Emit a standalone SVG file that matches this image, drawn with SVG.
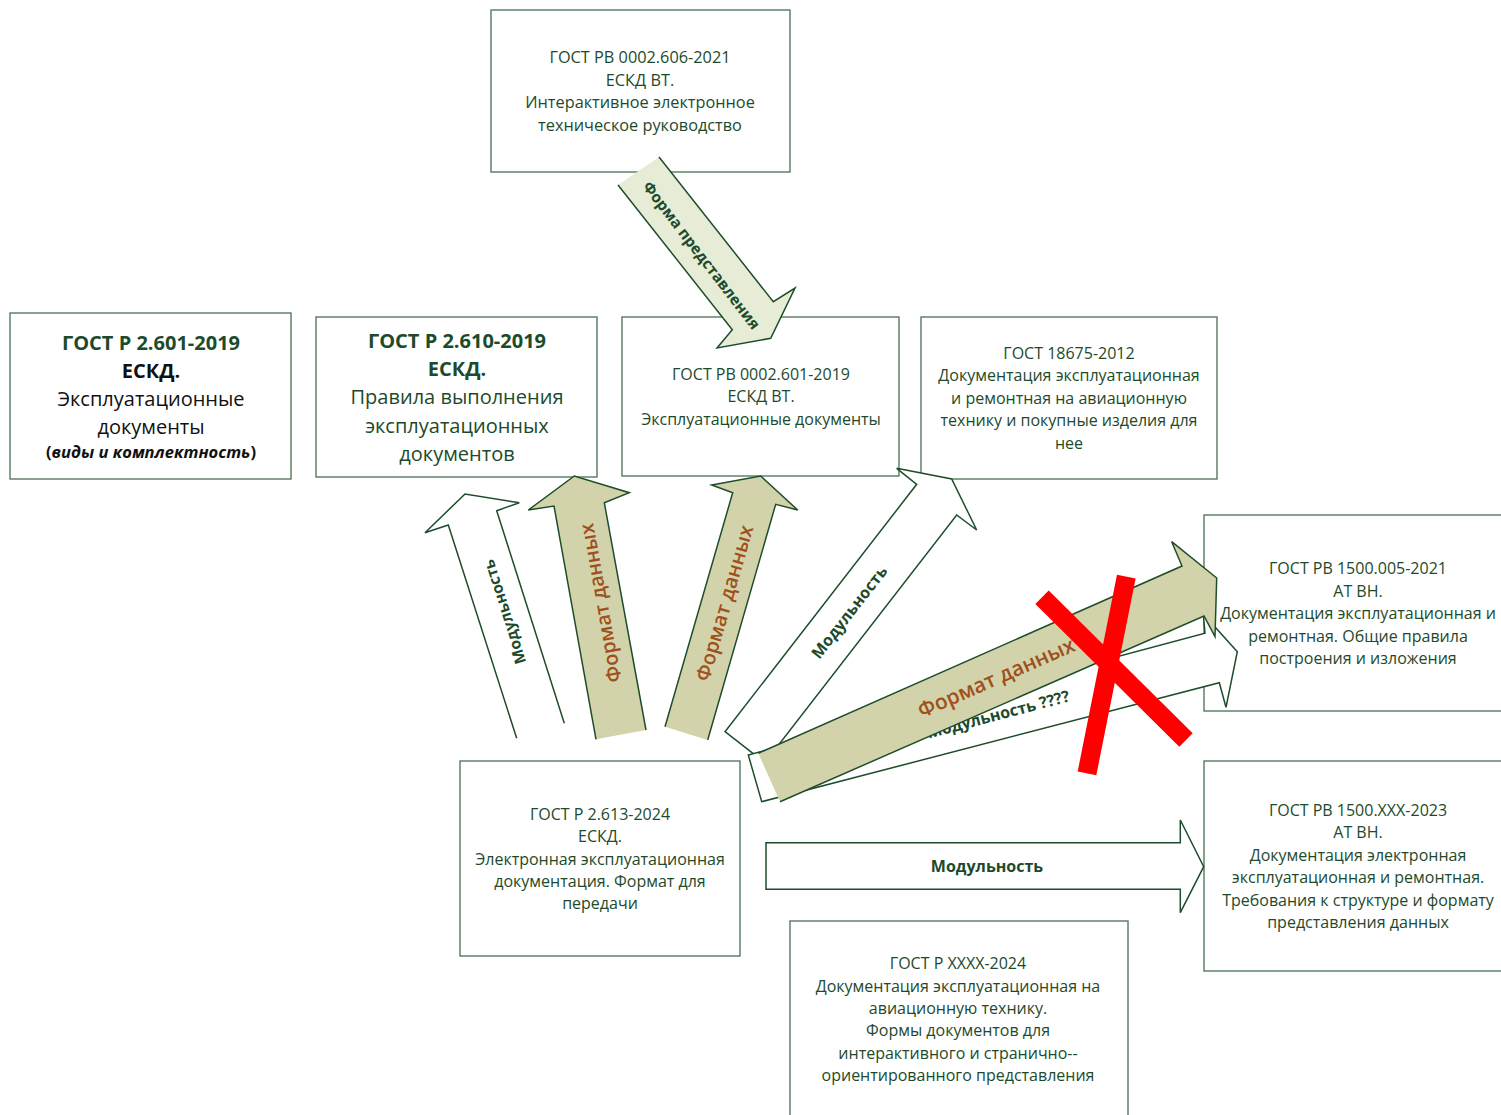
<svg xmlns="http://www.w3.org/2000/svg" width="1501" height="1115" viewBox="0 0 1501 1115">
<defs>
<style>
.box{fill:#fff;stroke:#557a60;stroke-width:1.4}
.t{font-family:"Open Sans","Noto Sans","DejaVu Sans",sans-serif;font-size:16px;fill:#1d4a2b;text-anchor:middle}
.big{font-size:20px}
.b{font-weight:bold}
.blk{fill:#111}
.ol{fill:none;stroke:#1e4d2b;stroke-width:1.5;stroke-linejoin:miter}
.wf{fill:#fff;stroke:none}
.tan{fill:#d2d3ab;stroke:none}
.lg{fill:#e6ecd6;stroke:none}
.lbl{font-family:"Open Sans","Noto Sans","DejaVu Sans",sans-serif;font-weight:bold;font-size:16px;fill:#1d4a2b;text-anchor:middle;dominant-baseline:central}
.fmt{font-family:"Open Sans","Noto Sans","DejaVu Sans",sans-serif;font-weight:600;font-size:20px;fill:#a0501c;text-anchor:middle;dominant-baseline:central}
.x{stroke:#ff0000;stroke-width:19;stroke-linecap:butt}
</style>
</defs>
<rect width="1501" height="1115" fill="#fff"/>

<g id="n-606">
<rect class="box" x="491" y="10" width="299" height="162"/>
<text class="t" x="640" y="62.5" style="font-size:16.3px">ГОСТ РВ 0002.606-2021</text>
<text class="t" x="640" y="85.5" style="font-size:16.3px">ЕСКД ВТ.</text>
<text class="t" x="640" y="107.5" style="font-size:16.3px">Интерактивное электронное</text>
<text class="t" x="640" y="130.5" style="font-size:16.3px">техническое руководство</text>
</g>

<g id="n-601">
<rect class="box" x="10" y="313" width="281" height="166"/>
<text class="t big b" x="151" y="350">ГОСТ Р 2.601-2019</text>
<text class="t big b blk" x="151" y="378">ЕСКД.</text>
<text class="t big blk" x="151" y="406">Эксплуатационные</text>
<text class="t big blk" x="151" y="434">документы</text>
<text class="t b blk" x="151" y="458" style="font-size:16.5px">(<tspan font-style="italic">виды и комплектность</tspan>)</text>
</g>

<g id="n-610">
<rect class="box" x="316" y="317" width="281" height="160"/>
<text class="t big b" x="457" y="348">ГОСТ Р 2.610-2019</text>
<text class="t big b" x="457" y="376">ЕСКД.</text>
<text class="t big" x="457" y="404">Правила выполнения</text>
<text class="t big" x="457" y="433">эксплуатационных</text>
<text class="t big" x="457" y="461">документов</text>
</g>

<g id="n-rv601">
<rect class="box" x="622" y="317" width="277" height="159"/>
<text class="t" x="761" y="379.5">ГОСТ РВ 0002.601-2019</text>
<text class="t" x="761" y="401.5">ЕСКД ВТ.</text>
<text class="t" x="761" y="424.5">Эксплуатационные документы</text>
</g>

<g id="n-18675">
<rect class="box" x="921" y="317" width="296" height="162"/>
<text class="t" x="1069" y="358.5">ГОСТ 18675-2012</text>
<text class="t" x="1069" y="380.5">Документация эксплуатационная</text>
<text class="t" x="1069" y="403.5">и ремонтная на авиационную</text>
<text class="t" x="1069" y="425.5">технику и покупные изделия для</text>
<text class="t" x="1069" y="448.5">нее</text>
</g>

<g id="n-1500-005">
<rect class="box" x="1204" y="515" width="310" height="196"/>
<text class="t" x="1358" y="573.5">ГОСТ РВ 1500.005-2021</text>
<text class="t" x="1358" y="596.5">АТ ВН.</text>
<text class="t" x="1358" y="618.5">Документация эксплуатационная и</text>
<text class="t" x="1358" y="641.5">ремонтная. Общие правила</text>
<text class="t" x="1358" y="663.5">построения и изложения</text>
</g>

<g id="n-1500-xxx">
<rect class="box" x="1204" y="761" width="310" height="210"/>
<text class="t" x="1358" y="815.5">ГОСТ РВ 1500.XXX-2023</text>
<text class="t" x="1358" y="837.5">АТ ВН.</text>
<text class="t" x="1358" y="860.5">Документация электронная</text>
<text class="t" x="1358" y="882.5">эксплуатационная и ремонтная.</text>
<text class="t" x="1358" y="905.5">Требования к структуре и формату</text>
<text class="t" x="1358" y="927.5">представления данных</text>
</g>

<g id="n-613">
<rect class="box" x="460" y="761" width="280" height="195"/>
<text class="t" x="600" y="819.5">ГОСТ Р 2.613-2024</text>
<text class="t" x="600" y="841.5">ЕСКД.</text>
<text class="t" x="600" y="864.5">Электронная эксплуатационная</text>
<text class="t" x="600" y="886.5">документация. Формат для</text>
<text class="t" x="600" y="908.5">передачи</text>
</g>

<g id="n-xxxx">
<rect class="box" x="790" y="921" width="338" height="210"/>
<text class="t" x="958" y="968.5">ГОСТ Р XXXX-2024</text>
<text class="t" x="958" y="991.5">Документация эксплуатационная на</text>
<text class="t" x="958" y="1013.5">авиационную технику.</text>
<text class="t" x="958" y="1035.5">Формы документов для</text>
<text class="t" x="958" y="1058.5">интерактивного и странично--</text>
<text class="t" x="958" y="1080.5">ориентированного представления</text>
</g>

<g id="connectors">
<g id="c-mod-left">
<polygon class="wf" points="516.7,738.3 448.3,525 425,532.7 465,494 519.3,502.7 496.7,510.7 564.3,723.3"/>
<polyline class="ol" points="516.7,738.3 448.3,525 425,532.7 465,494 519.3,502.7 496.7,510.7 564.3,723.3"/>
<text class="lbl" transform="translate(504,612) rotate(-107.8)" style="font-size:15.5px">Модульность</text>
</g>
<g id="c-fmt-1">
<polygon class="tan" points="596,739.3 554,506 528.3,510 574.3,476 629.3,492.7 604.3,502.7 646,730"/>
<polyline class="ol" points="596,739.3 554,506 528.3,510 574.3,476 629.3,492.7 604.3,502.7 646,730"/>
<text class="fmt" transform="translate(600,603) rotate(-100.2)">Формат данных</text>
</g>
<g id="c-fmt-2">
<polygon class="tan" points="665,726.7 732.7,492.7 711.7,485 760.7,476 797.7,510 775.7,504.3 707.7,740"/>
<polyline class="ol" points="665,726.7 732.7,492.7 711.7,485 760.7,476 797.7,510 775.7,504.3 707.7,740"/>
<text class="fmt" transform="translate(724,603) rotate(-73.9)">Формат данных</text>
</g>
<g id="c-forma">
<polygon class="lg" points="618,185 732.3,329.7 717,348 770.7,338.3 795,288 773.3,301.7 659,157"/>
<polyline class="ol" points="618,185 732.3,329.7 717,348 770.7,338.3 795,288 773.3,301.7 659,157"/>
<text class="lbl" transform="translate(702,255) rotate(52.5)" style="font-size:15.3px">Форма представления</text>
</g>
<g id="c-mod-2">
<polygon class="wf" points="725,731.7 916.7,484.3 896.7,468.3 951.7,479 976.7,530 956.7,515 764.8,762.6"/>
<polygon class="ol" points="725,731.7 916.7,484.3 896.7,468.3 951.7,479 976.7,530 956.7,515 764.8,762.6"/>
<text class="lbl" transform="translate(849,612) rotate(-52.2)">Модульность</text>
</g>
<g id="c-mod-q">
<polygon class="wf" points="748.3,755 1205,633.3 1203.3,614 1237.3,651.7 1226,707.3 1219.3,682.7 761.7,801.7"/>
<polygon class="ol" points="748.3,755 1205,633.3 1203.3,614 1237.3,651.7 1226,707.3 1219.3,682.7 761.7,801.7"/>
<text class="lbl" transform="translate(998,714) rotate(-14.8)">Модульность ????</text>
</g>
<g id="c-fmt-3">
<polygon class="tan" points="780,801.7 758.3,753.3 1182,566 1171.7,541.7 1216.7,578 1215,636.7 1204,616"/>
<polyline class="ol" points="758.3,753.3 1182,566 1171.7,541.7 1216.7,578 1215,636.7 1204,616 780,801.7"/>
<text class="fmt" transform="translate(996,677) rotate(-23.7)" style="font-size:21px">Формат данных</text>
</g>
<g id="c-cross">
<line class="x" x1="1042" y1="597.3" x2="1186" y2="740"/>
<line class="x" x1="1126.3" y1="576.7" x2="1087" y2="773.3"/>
</g>
<g id="c-mod-h">
<polygon class="wf" points="766,842.7 1180.3,842.7 1180.3,820 1203.7,866.7 1180.3,912.7 1180.3,889.3 766,889.3"/>
<polygon class="ol" points="766,842.7 1180.3,842.7 1180.3,820 1203.7,866.7 1180.3,912.7 1180.3,889.3 766,889.3"/>
<text class="lbl" x="987" y="866">Модульность</text>
</g>
</g>
</svg>
